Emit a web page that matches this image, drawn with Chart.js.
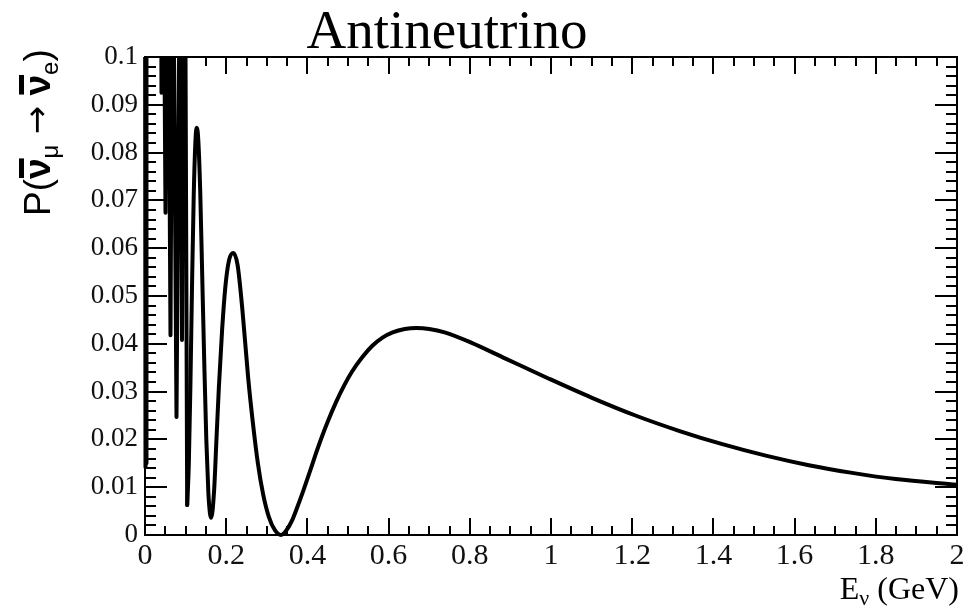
<!DOCTYPE html>
<html>
<head>
<meta charset="utf-8">
<title>Antineutrino appearance probability</title>
<script src="https://cdn.jsdelivr.net/npm/chart.js@4/dist/chart.umd.min.js"></script>
<style>
  html, body { margin: 0; padding: 0; background: #ffffff; }
  #wrap { width: 971px; height: 609px; }
</style>
</head>
<body>
<div id="wrap"><canvas id="chart" width="971" height="609"></canvas></div>
<script>
// Neutrino energy (GeV) and oscillation probability P(anti-nu_mu -> anti-nu_e).
// Below ~0.1 GeV the sampled curve oscillates faster than the sampling,
// and several excursions leave the plotted range (> 0.1).
const energyGeV = [
  0.0000, 0.0005, 0.0012, 0.0020, 0.0028, 0.0033, 0.0040,
  0.0394, 0.0406, 0.0419,
  0.0456, 0.0505, 0.0542,
  0.0567, 0.0628, 0.0677,
  0.0690, 0.0776, 0.0862,
  0.0874, 0.0911, 0.0948,
  0.0985, 0.1039,
  0.108, 0.112, 0.116, 0.120, 0.124, 0.127, 0.131, 0.136, 0.141,
  0.146, 0.151, 0.156, 0.160, 0.163, 0.170, 0.176, 0.182, 0.190, 0.198,
  0.207, 0.2175, 0.228, 0.240, 0.254, 0.265, 0.278, 0.291, 0.305, 0.320,
  0.335, 0.350, 0.362, 0.375, 0.390, 0.405, 0.420, 0.435, 0.450, 0.470,
  0.490, 0.510, 0.535, 0.560, 0.585, 0.610, 0.640, 0.669, 0.700,
  0.738, 0.802, 0.888, 0.995, 1.101, 1.208, 1.315, 1.422, 1.529, 1.635,
  1.742, 1.849, 2.000
];
const probability = [
  0.130, 0.0142, 0.0690, 0.0146, 0.0690, 0.0150, 0.130,
  0.130, 0.0925, 0.130,
  0.130, 0.0674, 0.130,
  0.130, 0.0418, 0.130,
  0.130, 0.0247, 0.130,
  0.130, 0.0408, 0.130,
  0.130, 0.0063,
  0.015, 0.032, 0.053, 0.071, 0.082, 0.0852, 0.083, 0.072, 0.054,
  0.036, 0.020, 0.009, 0.0045, 0.0036, 0.009, 0.020, 0.031, 0.043, 0.052,
  0.0575, 0.059, 0.0565, 0.047, 0.033, 0.024, 0.015, 0.0085, 0.0038, 0.001,
  0.0, 0.0012, 0.0030, 0.0058, 0.0093, 0.0130, 0.0168, 0.0204, 0.0237, 0.0277,
  0.0312, 0.0342, 0.0372, 0.0396, 0.0413, 0.0424, 0.0431, 0.0433, 0.0431,
  0.0424, 0.0403, 0.0369, 0.0327, 0.0287, 0.0250, 0.0218, 0.0190, 0.0166, 0.0146,
  0.0130, 0.0117, 0.0105
];
// Energy where the under-sampled region ends and the smooth curve begins
const smoothFromGeV = 0.1039;

// Axis labels
const xTickValues = [0, 0.2, 0.4, 0.6, 0.8, 1, 1.2, 1.4, 1.6, 1.8, 2];
const xTickLabels = ['0', '0.2', '0.4', '0.6', '0.8', '1', '1.2', '1.4', '1.6', '1.8', '2'];
const yTickValues = [0, 0.01, 0.02, 0.03, 0.04, 0.05, 0.06, 0.07, 0.08, 0.09, 0.1];
const yTickLabels = ['0', '0.01', '0.02', '0.03', '0.04', '0.05', '0.06', '0.07', '0.08', '0.09', '0.1'];

const titleText = 'Antineutrino';

const SERIF = '"Liberation Serif", "Times New Roman", serif';
const SANS = '"Liberation Sans", Arial, sans-serif';

const points = energyGeV.map((e, i) => ({ x: e, y: probability[i] }));
const jaggedPart = points.filter(p => p.x <= smoothFromGeV);
const smoothPart = points.filter(p => p.x >= smoothFromGeV);

// Frame with inward ticks on all four sides, plus the titles.
const framePlugin = {
  id: 'frameAndTitles',
  afterDraw(chart) {
    const { ctx, chartArea: a, scales } = chart;
    const xs = scales.x, ys = scales.y;
    ctx.save();
    ctx.strokeStyle = '#000';
    ctx.lineWidth = 2;
    ctx.lineCap = 'butt';
    ctx.strokeRect(a.left, a.top, a.right - a.left, a.bottom - a.top);

    ctx.beginPath();
    for (let i = 0; i <= 40; i++) {
      const px = Math.round(xs.getPixelForValue(i * 0.05));
      const len = (i % 4 === 0) ? 17 : 9;
      ctx.moveTo(px, a.bottom); ctx.lineTo(px, a.bottom - len);
      ctx.moveTo(px, a.top); ctx.lineTo(px, a.top + len);
    }
    for (let i = 0; i <= 50; i++) {
      const py = Math.round(ys.getPixelForValue(i * 0.002));
      const len = (i % 5 === 0) ? 22 : 11;
      ctx.moveTo(a.left, py); ctx.lineTo(a.left + len, py);
      ctx.moveTo(a.right, py); ctx.lineTo(a.right - len, py);
    }
    ctx.stroke();

    // Main title
    ctx.fillStyle = '#000';
    ctx.font = '55px ' + SERIF;
    ctx.textAlign = 'center';
    ctx.textBaseline = 'alphabetic';
    ctx.fillText(titleText, 447, 48);

    // x-axis title: E_nu (GeV), right-aligned to the frame
    ctx.textAlign = 'left';
    const big = '32px ' + SERIF, small = '22px ' + SERIF;
    ctx.font = big; const wE = ctx.measureText('E').width;
    ctx.font = small; const wNu = ctx.measureText('\u03bd').width;
    ctx.font = big; const wRest = ctx.measureText(' (GeV)').width;
    let xx = a.right + 2 - (wE + wNu + wRest);
    const base = 599;
    ctx.font = big; ctx.fillText('E', xx, base); xx += wE;
    ctx.font = small; ctx.fillText('\u03bd', xx, base + 6); xx += wNu;
    ctx.font = big; ctx.fillText(' (GeV)', xx, base);

    // y-axis title: P(anti-nu_mu -> anti-nu_e), rotated, ending near the top
    ctx.save();
    ctx.translate(50, 216);
    ctx.rotate(-Math.PI / 2);
    const yBig = '37px ' + SANS, ySmall = '24px ' + SANS;
    const arrowFont = '34px "DejaVu Sans", sans-serif';
    let t = 0;
    const put = (txt, font, dy) => {
      ctx.font = font; ctx.fillText(txt, t, dy);
      const w = ctx.measureText(txt).width; const x0 = t; t += w; return [x0, w];
    };
    const nuBar = () => {
      const [x0, w] = put('\u03bd', 'bold ' + yBig, 0);
      ctx.fillRect(x0 + 1, -31, w - 1, 5);
    };
    put('P(', yBig, 0);
    nuBar();
    put('\u03bc', ySmall, 8);
    put(' ', yBig, 0);
    put('\u2192', arrowFont, -2);
    put(' ', yBig, 0);
    nuBar();
    put('e', ySmall, 8);
    put(')', yBig, 0);
    ctx.restore();

    ctx.restore();
  }
};

const lineStyle = {
  borderColor: '#000',
  borderWidth: 4,
  pointRadius: 0,
  fill: false,
  borderJoinStyle: 'round',
  borderCapStyle: 'round',
  clip: { left: 2, top: 0, right: 0, bottom: 4 }
};

new Chart(document.getElementById('chart'), {
  type: 'line',
  data: {
    datasets: [
      Object.assign({ data: jaggedPart, tension: 0 }, lineStyle),
      Object.assign({ data: smoothPart, cubicInterpolationMode: 'monotone' }, lineStyle)
    ]
  },
  options: {
    responsive: false,
    devicePixelRatio: 1,
    animation: false,
    events: [],
    layout: { padding: { top: 57, right: 14, left: 0, bottom: 0 } },
    plugins: { legend: { display: false }, tooltip: { enabled: false }, title: { display: false } },
    scales: {
      x: {
        type: 'linear', min: 0, max: 2,
        afterBuildTicks: s => { s.ticks = xTickValues.map(v => ({ value: v })); },
        afterFit: s => { s.height = 74; },
        ticks: {
          callback: (v, i) => xTickLabels[i],
          font: { family: SERIF, size: 30 }, color: '#111',
          padding: 3, maxRotation: 0, autoSkip: false
        },
        grid: { display: false, drawTicks: false },
        border: { display: false }
      },
      y: {
        type: 'linear', min: 0, max: 0.1,
        afterBuildTicks: s => { s.ticks = yTickValues.map(v => ({ value: v })); },
        afterFit: s => { s.width = 145; },
        ticks: {
          callback: (v, i) => yTickLabels[i],
          font: { family: SERIF, size: 27 }, color: '#111',
          padding: 7, autoSkip: false
        },
        grid: { display: false, drawTicks: false },
        border: { display: false }
      }
    }
  },
  plugins: [framePlugin]
});
</script>
</body>
</html>
